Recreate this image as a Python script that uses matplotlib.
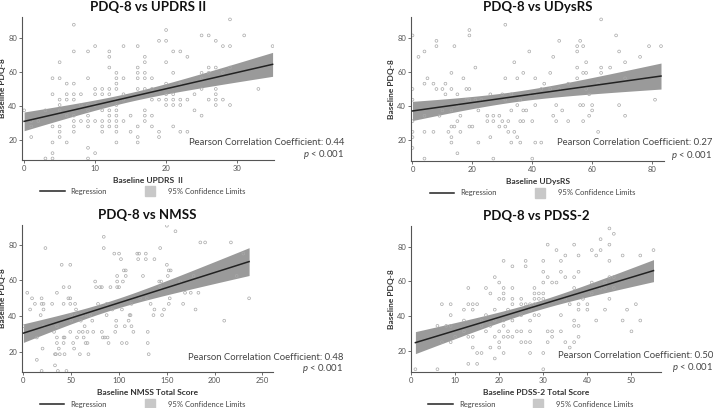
import numpy as np
import matplotlib
matplotlib.use("Agg")
import matplotlib.pyplot as plt
from matplotlib.lines import Line2D

plt.rcParams['font.family'] = ['Lato', 'DejaVu Sans']
plt.rcParams['mathtext.fontset'] = 'custom'
plt.rcParams['mathtext.it'] = 'Lato:italic'
plt.rcParams['mathtext.rm'] = 'Lato'

# PDQ-8 vs UPDRS II (x, PDQ-8)
updrs_pts = [
    (0, 37.5), (1, 28.1), (1, 21.9), (1, 31.25), (2, 31.25), (3, 37.5), (3, 9.4),
    (4, 56.25), (4, 46.9), (4, 28.1), (4, 18.75), (4, 12.5), (4, 9.4),
    (5, 65.6), (5, 56.25), (5, 43.75), (5, 40.6), (5, 37.5), (5, 28.1), (5, 25), (5, 21.9),
    (6, 53.1), (6, 46.9), (6, 43.75), (6, 34.4), (6, 18.75),
    (7, 87.5), (7, 71.9), (7, 53.1), (7, 46.9), (7, 43.75), (7, 34.4), (7, 31.25), (7, 28.1), (7, 25),
    (8, 46.9), (8, 40.6), (8, 31.25),
    (9, 71.9), (9, 56.25), (9, 40.6), (9, 37.5), (9, 34.4), (9, 31.25), (9, 28.1), (9, 15.6), (9, 9.4),
    (10, 75), (10, 50), (10, 46.9), (10, 40.6), (10, 31.25), (10, 12.5),
    (11, 50), (11, 46.9), (11, 37.5), (11, 31.25), (11, 28.1), (11, 25),
    (12, 71.9), (12, 68.75), (12, 62.5), (12, 50), (12, 46.9), (12, 37.5), (12, 34.4), (12, 31.25), (12, 28.1),
    (13, 59.4), (13, 56.25), (13, 53.1), (13, 50), (13, 43.75), (13, 40.6), (13, 37.5), (13, 34.4),
    (13, 31.25), (13, 28.1), (13, 25), (13, 18.75),
    (14, 75), (14, 56.25), (14, 46.9), (14, 43.75), (14, 31.25),
    (15, 34.4), (15, 25),
    (16, 75), (16, 62.5), (16, 59.4), (16, 56.25), (16, 50), (16, 28.1), (16, 21.9), (16, 18.75),
    (17, 68.75), (17, 65.6), (17, 59.4), (17, 56.25), (17, 50), (17, 37.5), (17, 34.4), (17, 31.25),
    (18, 56.25), (18, 50), (18, 43.75), (18, 34.4), (18, 28.1),
    (19, 78.1), (19, 43.75), (19, 25), (19, 21.9),
    (20, 84.4), (20, 78.1), (20, 65.6), (20, 53.1), (20, 46.9), (20, 43.75), (20, 40.6),
    (21, 71.9), (21, 59.4), (21, 46.9), (21, 43.75), (21, 40.6), (21, 28.1),
    (22, 71.9), (22, 53.1), (22, 43.75), (22, 40.6), (22, 25),
    (23, 68.75), (23, 43.75), (23, 25),
    (24, 46.9), (24, 37.5), (24, 18.75),
    (25, 81.25), (25, 59.4), (25, 56.25), (25, 50), (25, 34.4),
    (26, 81.25), (26, 62.5), (26, 59.4), (26, 43.75),
    (27, 78.1), (27, 62.5), (27, 50), (27, 46.9), (27, 43.75), (27, 40.6),
    (28, 75), (28, 59.4), (28, 43.75),
    (29, 90.6), (29, 75), (29, 62.5), (29, 40.6),
    (31, 81.25), (33, 50), (35, 75),
]

# PDQ-8 vs UDysRS
udysrs_pts = [
    (0, 81.25), (0, 50), (0, 43.75), (0, 31.25), (0, 25), (0, 21.9), (0, 15.6),
    (2, 68.75), (4, 71.9), (4, 53.1), (4, 34.4), (4, 25), (4, 9.4), (5, 56.25),
    (7, 53.1), (7, 25), (8, 78.1), (8, 75), (8, 50), (9, 34.4), (10, 50), (10, 37.5),
    (11, 53.1), (11, 46.9), (12, 25),
    (13, 59.4), (13, 50), (13, 37.5), (13, 28.1), (13, 21.9), (13, 18.75),
    (14, 75), (14, 28.1), (15, 46.9), (15, 40.6), (15, 31.25), (15, 12.5),
    (16, 34.4), (16, 25), (17, 56.25), (18, 50), (18, 43.75),
    (19, 84.4), (19, 81.25), (19, 50), (19, 43.75), (19, 28.1), (20, 28.1),
    (21, 62.5), (21, 43.75), (22, 37.5), (22, 18.75), (23, 43.75),
    (25, 34.4), (25, 31.25), (26, 46.9), (26, 21.9),
    (27, 34.4), (27, 31.25), (27, 9.4), (29, 34.4), (29, 28.1), (30, 46.9), (30, 31.25),
    (31, 87.5), (31, 56.25), (31, 43.75), (31, 28.1), (32, 31.25), (32, 25),
    (33, 46.9), (33, 37.5), (33, 18.75), (34, 65.6), (34, 25),
    (35, 56.25), (35, 40.6), (35, 21.9), (36, 43.75), (36, 31.25), (36, 18.75),
    (37, 59.4), (37, 37.5), (37, 31.25), (38, 37.5), (39, 71.9), (39, 46.9),
    (40, 31.25), (40, 9.4), (41, 56.25), (41, 46.9), (41, 40.6), (41, 18.75),
    (43, 50), (43, 18.75), (44, 53.1), (46, 59.4), (46, 50), (47, 68.75), (47, 34.4),
    (48, 40.6), (48, 31.25), (49, 78.1), (49, 50), (50, 37.5), (52, 53.1), (52, 31.25),
    (55, 75), (55, 71.9), (55, 62.5), (55, 56.25), (56, 78.1), (56, 40.6),
    (57, 75), (57, 59.4), (57, 40.6), (57, 31.25), (58, 65.6), (58, 59.4), (58, 50),
    (59, 46.9), (59, 34.4), (60, 40.6), (60, 37.5), (62, 53.1), (62, 25),
    (63, 90.6), (63, 62.5), (63, 59.4), (66, 62.5), (68, 81.25), (69, 71.9), (69, 40.6),
    (71, 65.6), (71, 56.25), (71, 34.4), (76, 68.75), (79, 75), (81, 43.75), (83, 75),
]

# PDQ-8 vs NMSS total
nmss_pts = [
    (0, 34.4), (4, 53.1), (7, 43.75), (9, 50), (12, 46.9), (14, 28.1), (14, 15.6), (18, 40.6),
    (19, 50), (19, 46.9), (19, 9.4), (20, 21.9), (21, 46.9), (21, 43.75), (21, 34.4), (23, 78.1),
    (30, 46.9), (32, 31.25), (33, 12.5), (33, 18.75), (34, 18.75), (35, 28.1), (35, 25), (35, 34.4),
    (35, 53.1), (37, 21.9), (38, 18.75), (36, 9.4),
    (40, 68.75), (42, 56.25), (42, 46.9), (42, 28.1), (42, 25), (43, 28.1), (43, 18.75), (45, 9.4),
    (47, 50), (48, 56.25), (49, 68.75), (49, 50), (49, 46.9), (49, 31.25), (50, 40.6), (50, 37.5),
    (52, 25), (53, 21.9), (54, 46.9), (55, 43.75), (55, 40.6), (56, 28.1),
    (58, 31.25), (59, 18.75), (60, 37.5), (61, 40.6), (62, 31.25), (63, 28.1), (64, 34.4),
    (65, 25), (66, 40.6), (67, 31.25), (68, 18.75), (67, 25), (70, 40.6), (72, 37.5), (73, 31.25),
    (75, 59.4), (76, 56.25), (78, 46.9), (80, 56.25), (82, 56.25), (82, 31.25), (83, 28.1),
    (85, 28.1), (87, 40.6), (87, 46.9), (88, 28.1), (89, 25), (91, 56.25), (93, 43.75),
    (84, 84.4), (84, 78.1),
    (95, 75), (96, 31.25), (97, 37.5), (97, 34.4), (98, 59.4), (98, 62.5), (98, 56.25),
    (100, 56.25), (100, 75), (102, 71.9), (103, 43.75), (103, 25), (104, 59.4), (105, 65.6),
    (106, 34.4), (107, 62.5), (107, 65.6), (108, 25), (110, 37.5), (111, 40.6), (112, 40.6),
    (113, 34.4), (113, 46.9), (115, 31.25),
    (119, 75), (120, 71.9), (121, 75), (122, 50), (125, 62.5), (128, 75), (128, 71.9), (129, 50),
    (130, 31.25), (130, 25), (131, 18.75), (133, 46.9), (137, 43.75), (137, 71.9), (136, 40.6),
    (142, 59.4), (143, 56.25), (143, 78.1), (144, 59.4), (145, 40.6), (147, 43.75), (150, 90.6),
    (150, 68.75), (151, 62.5), (152, 46.9), (152, 65.6), (153, 50), (154, 65.6), (159, 87.5),
    (164, 59.4), (167, 46.9), (169, 53.1),
    (175, 53.1), (178, 62.5), (180, 43.75), (183, 53.1), (185, 81.25), (190, 81.25),
    (210, 37.5), (217, 81.25), (223, 62.5), (230, 75), (236, 50),
]

# PDQ-8 vs PDSS-2 total
pdss_pts = [
    (1, 9.4), (6, 9.4), (6, 34.4), (7, 46.9), (7, 25), (8, 34.4), (9, 46.9), (9, 40.6), (9, 34.4),
    (9, 25), (10, 28.1),
    (12, 43.75), (12, 37.5), (12, 31.25), (13, 46.9), (13, 56.25), (13, 28.1), (13, 12.5),
    (14, 46.9), (14, 43.75), (14, 28.1), (14, 21.9), (15, 46.9), (15, 18.75), (15, 12.5),
    (16, 37.5), (16, 34.4), (16, 18.75), (17, 56.25), (17, 40.6), (17, 31.25),
    (18, 53.1), (18, 34.4), (18, 21.9),
    (19, 62.5), (19, 43.75), (19, 37.5), (19, 28.1), (19, 15.6),
    (20, 59.4), (20, 50), (20, 31.25), (20, 25), (20, 21.9),
    (21, 71.9), (21, 56.25), (21, 53.1), (21, 50), (21, 37.5), (21, 34.4), (21, 28.1), (21, 18.75),
    (22, 43.75), (22, 31.25), (22, 28.1),
    (23, 68.75), (23, 56.25), (23, 50), (23, 46.9), (23, 37.5), (23, 28.1), (24, 31.25),
    (25, 50), (25, 46.9), (25, 40.6), (25, 31.25), (25, 25),
    (26, 71.9), (26, 68.75), (26, 46.9), (26, 25),
    (27, 46.9), (27, 43.75), (27, 37.5), (27, 31.25), (27, 25), (27, 18.75),
    (28, 56.25), (28, 53.1), (28, 50), (28, 46.9), (28, 40.6),
    (29, 53.1), (29, 50), (29, 40.6),
    (30, 71.9), (30, 65.6), (30, 59.4), (30, 53.1), (30, 50), (30, 46.9), (30, 18.75), (30, 9.4),
    (31, 81.25), (31, 62.5), (31, 31.25), (31, 25), (32, 59.4), (32, 31.25), (32, 28.1),
    (33, 78.1), (33, 59.4), (34, 71.9), (34, 65.6), (34, 40.6), (34, 31.25),
    (35, 75), (35, 62.5), (35, 50), (35, 25), (36, 46.9), (36, 21.9),
    (37, 81.25), (37, 62.5), (37, 56.25), (37, 37.5), (37, 34.4), (37, 25),
    (38, 75), (38, 65.6), (38, 46.9), (38, 43.75), (38, 34.4), (38, 28.1),
    (39, 50), (40, 46.9), (40, 43.75),
    (41, 78.1), (41, 59.4), (41, 53.1), (42, 75), (42, 37.5), (43, 84.4), (43, 78.1), (43, 56.25),
    (44, 59.4), (44, 56.25), (44, 43.75),
    (45, 90.6), (45, 81.25), (45, 71.9), (45, 62.5), (45, 50), (46, 87.5), (46, 62.5), (46, 56.25),
    (49, 43.75), (48, 75), (48, 37.5), (51, 46.9), (50, 31.25), (52, 75), (52, 37.5), (55, 78.1),
]

titles = ["PDQ-8 vs UPDRS II", "PDQ-8 vs UDysRS", "PDQ-8 vs NMSS", "PDQ-8 vs PDSS-2"]
xlabels = ["Baseline UPDRS  II", "Baseline UDysRS", "Baseline NMSS Total Score",
           "Baseline PDSS-2 Total Score"]
r_labels = ["0.44", "0.27", "0.48", "0.50"]
xticks_list = [[0, 10, 20, 30], [0, 20, 40, 60, 80], [0, 50, 100, 150, 200, 250],
               [0, 10, 20, 30, 40, 50]]
yticks = [20, 40, 60, 80]

W, H = 713, 408
# axes boxes in pixels: left, top, right, bottom
boxes = [(22, 17, 274, 160), (411, 17, 664, 161), (22, 225, 273, 372), (411, 226, 661, 372)]
xlims = [(-0.3, 35.2), (-0.5, 84), (-1.5, 261), (0, 56.7)]
ylims = [(8.5, 92), (8, 92), (8.8, 91), (7.8, 92)]
text_x = [1.278, 1.19, 1.28, 1.208]
text_y = [(0.119, 0.035), (0.13, 0.04), (0.102, 0.025), (0.113, 0.034)]

fig = plt.figure(figsize=(W / 100, H / 100), dpi=100)

for i, pts in enumerate([updrs_pts, udysrs_pts, nmss_pts, pdss_pts]):
    l, t, r, b = boxes[i]
    ax = fig.add_axes([l / W, 1 - b / H, (r - l) / W, (b - t) / H])
    xy = np.array(pts, dtype=float)
    x, y = xy[:, 0], xy[:, 1]

    # regression + 95% confidence band of the mean
    slope, inter = np.polyfit(x, y, 1)
    n = len(x)
    resid = y - (slope * x + inter)
    s = np.sqrt(np.sum(resid ** 2) / (n - 2))
    sxx = np.sum((x - x.mean()) ** 2)
    xs = np.linspace(x.min(), x.max(), 200)
    ys = slope * xs + inter
    half = 1.97 * s * np.sqrt(1 / n + (xs - x.mean()) ** 2 / sxx)

    ax.fill_between(xs, ys - half, ys + half, color='#9a9a9a', lw=0, zorder=1)
    ax.scatter(x, y, s=4, facecolors='none', edgecolors='#a8a8a8', linewidths=0.5, zorder=2)
    ax.plot(xs, ys, color='#222222', lw=1.1, zorder=3)

    ax.set_xlim(*xlims[i])
    ax.set_ylim(*ylims[i])
    ax.set_xticks(xticks_list[i])
    ax.set_yticks(yticks)
    for sp in ['top', 'right']:
        ax.spines[sp].set_visible(False)
    for sp in ['left', 'bottom']:
        ax.spines[sp].set_color('#555555')
        ax.spines[sp].set_linewidth(0.8)
    ax.tick_params(labelsize=5.5, colors='#555555', length=2, width=0.6, pad=1.5)

    ax.set_title(titles[i], fontsize=9.5, fontweight='bold', color='#111111', pad=4.5)
    ax.set_xlabel(xlabels[i], fontsize=6, fontweight='bold', color='#333333', labelpad=4)
    ax.set_ylabel("Baseline PDQ-8", fontsize=6, fontweight='bold', color='#333333', labelpad=1.5)

    ax.text(text_x[i], text_y[i][0], "Pearson Correlation Coefficient: " + r_labels[i],
            transform=ax.transAxes, ha='right', va='center', fontsize=6.8, color='#444444')
    ax.text(text_x[i], text_y[i][1], "$p$ < 0.001",
            transform=ax.transAxes, ha='right', va='center', fontsize=6.8, color='#444444')

    handles = [Line2D([], [], color='#222222', lw=1.1),
               Line2D([], [], marker='s', markersize=7, color='#c8c8c8', linestyle='None')]
    ax.legend(handles, ["Regression", "95% Confidence Limits"], loc='center',
              bbox_to_anchor=(0.48, -0.22), ncol=2, frameon=False, fontsize=5.5,
              handlelength=3.2, columnspacing=4, labelcolor='#444444')

fig.savefig("out.png", dpi=100)
